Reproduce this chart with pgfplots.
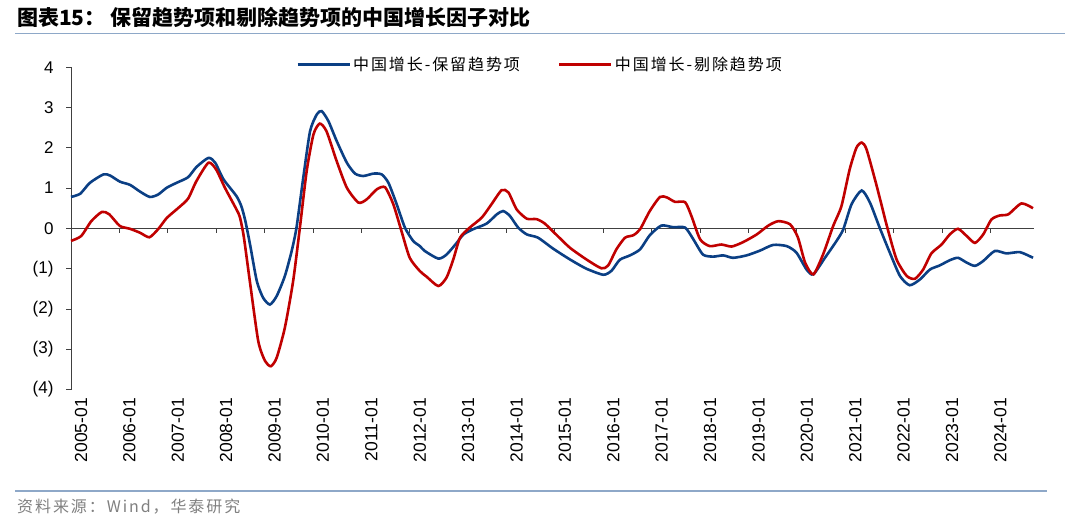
\documentclass[border=0pt]{standalone}
\usepackage{fontspec}
\setmainfont{Liberation Sans}
\newfontfamily\cjk{Noto Sans CJK SC}
\newfontfamily\cjkwide[LetterSpace=12]{Noto Sans CJK SC}
\usepackage{pgfplots}
\pgfplotsset{compat=1.18}
\definecolor{serblue}{HTML}{0B3F84}
\definecolor{serred}{HTML}{C00000}
\definecolor{rule}{HTML}{8EA8C8}

\begin{document}
\begin{tikzpicture}
% page frame 1080 x 527 (1pt = 1px)
\path[use as bounding box] (0pt,0pt) rectangle (1080pt,527pt);

% title and rules
\node[anchor=west, inner sep=0pt, font=\cjk\bfseries\fontsize{21}{21}\selectfont]
  at (17pt,510pt) {图表15：\ 保留趋势项和剔除趋势项的中国增长因子对比};
\draw[rule, line width=1.6pt] (15pt,493.3pt) -- (1065pt,493.3pt);
\draw[rule, line width=1.2pt] (15pt,36pt) -- (1047pt,36pt);
\node[anchor=west, inner sep=0pt, text=black!50, font=\cjkwide\fontsize{16}{16}\selectfont]
  at (17pt,20pt) {资料来源：Wind，华泰研究};

\begin{axis}[
  at={(71pt,137.4pt)}, anchor=south west,
  scale only axis,
  width=963pt, height=322.4pt,
  xmin=2005, xmax=2024.9,
  ymin=-4, ymax=4,
  axis y line*=left,
  axis x line*=bottom,
  x axis line style={draw=none},
  major x tick style={draw=none},
  y axis line style={black!75, line width=0.9pt},
  major y tick style={black!75, line width=0.9pt},
  tick align=outside,
  major tick length=5pt,
  ytick={-4,-3,-2,-1,0,1,2,3,4},
  yticklabels={(4),(3),(2),(1),0,1,2,3,4},
  yticklabel style={font=\fontsize{17}{17}\selectfont, xshift=-9pt},
  xtick={2005,2006,2007,2008,2009,2010,2011,2012,2013,2014,2015,2016,2017,2018,2019,2020,2021,2022,2023,2024},
  xticklabels={2005-01,2006-01,2007-01,2008-01,2009-01,2010-01,2011-01,2012-01,2013-01,2014-01,2015-01,2016-01,2017-01,2018-01,2019-01,2020-01,2021-01,2022-01,2023-01,2024-01},
  xticklabel style={rotate=90, anchor=east, font=\fontsize{17.5}{17.5}\selectfont, yshift=-10pt},
  clip=false,
  legend columns=2,
  legend style={draw=none, fill=none, at={(0.487,1.007)}, anchor=center,
    font=\cjkwide\fontsize{16}{16}\selectfont,
    /tikz/every even column/.append style={column sep=36pt}},
  legend image code/.code={\draw[#1, line width=3pt] (0pt,0pt) -- (52pt,0pt);},
]
% zero line with year ticks
\draw[black!75, line width=0.9pt] (axis cs:2005,0) -- (axis cs:2024.9,0);
\pgfplotsinvokeforeach{2006,...,2024}{
  \draw[black!75, line width=0.9pt] (axis cs:#1,0) -- ++(0pt,-5pt);
}

\addplot[serblue, line width=2.6pt, smooth, tension=0.4] coordinates {
(2005.00,0.78) (2005.19,0.86) (2005.39,1.13) (2005.67,1.34) (2005.81,1.31)
(2006.01,1.16) (2006.22,1.08) (2006.43,0.91) (2006.63,0.78) (2006.80,0.84)
(2006.98,1.01) (2007.18,1.13) (2007.42,1.27) (2007.59,1.52) (2007.84,1.75)
(2007.98,1.63) (2008.15,1.22) (2008.42,0.80) (2008.52,0.55) (2008.60,0.20)
(2008.70,-0.40) (2008.84,-1.31) (2008.97,-1.72) (2009.11,-1.89) (2009.25,-1.68)
(2009.42,-1.18) (2009.56,-0.56) (2009.66,0.02) (2009.80,1.26) (2009.94,2.41)
(2010.08,2.83) (2010.18,2.91) (2010.32,2.66) (2010.49,2.17) (2010.70,1.63)
(2010.87,1.36) (2011.04,1.30) (2011.25,1.36) (2011.42,1.34) (2011.56,1.13)
(2011.73,0.60) (2011.90,0.02) (2012.07,-0.31) (2012.21,-0.44) (2012.31,-0.56)
(2012.59,-0.75) (2012.76,-0.65) (2012.97,-0.36) (2013.11,-0.15) (2013.31,-0.02)
(2013.59,0.12) (2013.80,0.35) (2013.93,0.43) (2014.07,0.31) (2014.24,0.02)
(2014.42,-0.15) (2014.65,-0.23) (2014.96,-0.50) (2015.31,-0.77) (2015.65,-1.00)
(2016.00,-1.15) (2016.17,-1.05) (2016.34,-0.78) (2016.55,-0.67) (2016.76,-0.52)
(2016.96,-0.17) (2017.20,0.07) (2017.44,0.03) (2017.69,0.02) (2017.86,-0.27)
(2018.06,-0.65) (2018.27,-0.70) (2018.48,-0.67) (2018.68,-0.73) (2018.96,-0.67)
(2019.24,-0.55) (2019.51,-0.41) (2019.79,-0.44) (2019.99,-0.60) (2020.20,-1.02)
(2020.34,-1.14) (2020.58,-0.73) (2020.82,-0.31) (2020.96,-0.02) (2021.13,0.60)
(2021.34,0.94) (2021.51,0.64) (2021.71,0.02) (2021.92,-0.60) (2022.13,-1.18)
(2022.33,-1.41) (2022.54,-1.27) (2022.75,-1.02) (2022.95,-0.92) (2023.16,-0.79)
(2023.33,-0.73) (2023.51,-0.85) (2023.68,-0.93) (2023.85,-0.81) (2024.09,-0.56)
(2024.33,-0.62) (2024.61,-0.59) (2024.88,-0.73)
};
\addlegendentry{中国增长-保留趋势项}

\addplot[serred, line width=2.6pt, smooth, tension=0.4] coordinates {
(2005.00,-0.31) (2005.21,-0.19) (2005.42,0.18) (2005.64,0.41) (2005.79,0.35)
(2006.01,0.06) (2006.22,-0.01) (2006.43,-0.11) (2006.62,-0.22) (2006.80,-0.02)
(2006.98,0.26) (2007.22,0.51) (2007.42,0.74) (2007.59,1.17) (2007.84,1.63)
(2008.00,1.46) (2008.18,1.01) (2008.42,0.47) (2008.49,0.28) (2008.57,-0.20)
(2008.70,-1.35) (2008.87,-2.80) (2009.01,-3.29) (2009.13,-3.42) (2009.25,-3.21)
(2009.42,-2.46) (2009.59,-1.31) (2009.73,0.02) (2009.87,1.42) (2010.01,2.33)
(2010.14,2.60) (2010.28,2.41) (2010.49,1.67) (2010.70,1.01) (2010.94,0.64)
(2011.11,0.72) (2011.32,0.97) (2011.49,1.02) (2011.66,0.60) (2011.83,-0.07)
(2012.00,-0.73) (2012.21,-1.06) (2012.35,-1.20) (2012.59,-1.43) (2012.76,-1.22)
(2012.90,-0.77) (2013.04,-0.23) (2013.24,0.02) (2013.49,0.27) (2013.69,0.60)
(2013.90,0.95) (2014.04,0.89) (2014.21,0.47) (2014.42,0.24) (2014.62,0.23)
(2014.79,0.12) (2015.04,-0.17) (2015.31,-0.48) (2015.65,-0.77) (2015.96,-0.99)
(2016.10,-0.92) (2016.27,-0.52) (2016.45,-0.23) (2016.62,-0.17) (2016.76,-0.02)
(2016.96,0.43) (2017.17,0.78) (2017.31,0.77) (2017.48,0.66) (2017.69,0.65)
(2017.82,0.31) (2018.00,-0.27) (2018.20,-0.44) (2018.44,-0.40) (2018.65,-0.45)
(2018.89,-0.34) (2019.17,-0.15) (2019.41,0.07) (2019.62,0.18) (2019.86,0.10)
(2020.02,-0.22) (2020.17,-0.85) (2020.34,-1.14) (2020.54,-0.65) (2020.75,0.06)
(2020.92,0.55) (2021.09,1.46) (2021.23,2.00) (2021.34,2.13) (2021.44,1.96)
(2021.65,1.05) (2021.86,0.06) (2022.06,-0.77) (2022.27,-1.18) (2022.44,-1.25)
(2022.61,-1.02) (2022.78,-0.62) (2022.99,-0.40) (2023.16,-0.15) (2023.33,-0.01)
(2023.51,-0.19) (2023.68,-0.36) (2023.85,-0.15) (2024.02,0.22) (2024.19,0.32)
(2024.37,0.35) (2024.64,0.62) (2024.88,0.50)
};
\addlegendentry{中国增长-剔除趋势项}
\end{axis}
\end{tikzpicture}
\end{document}
